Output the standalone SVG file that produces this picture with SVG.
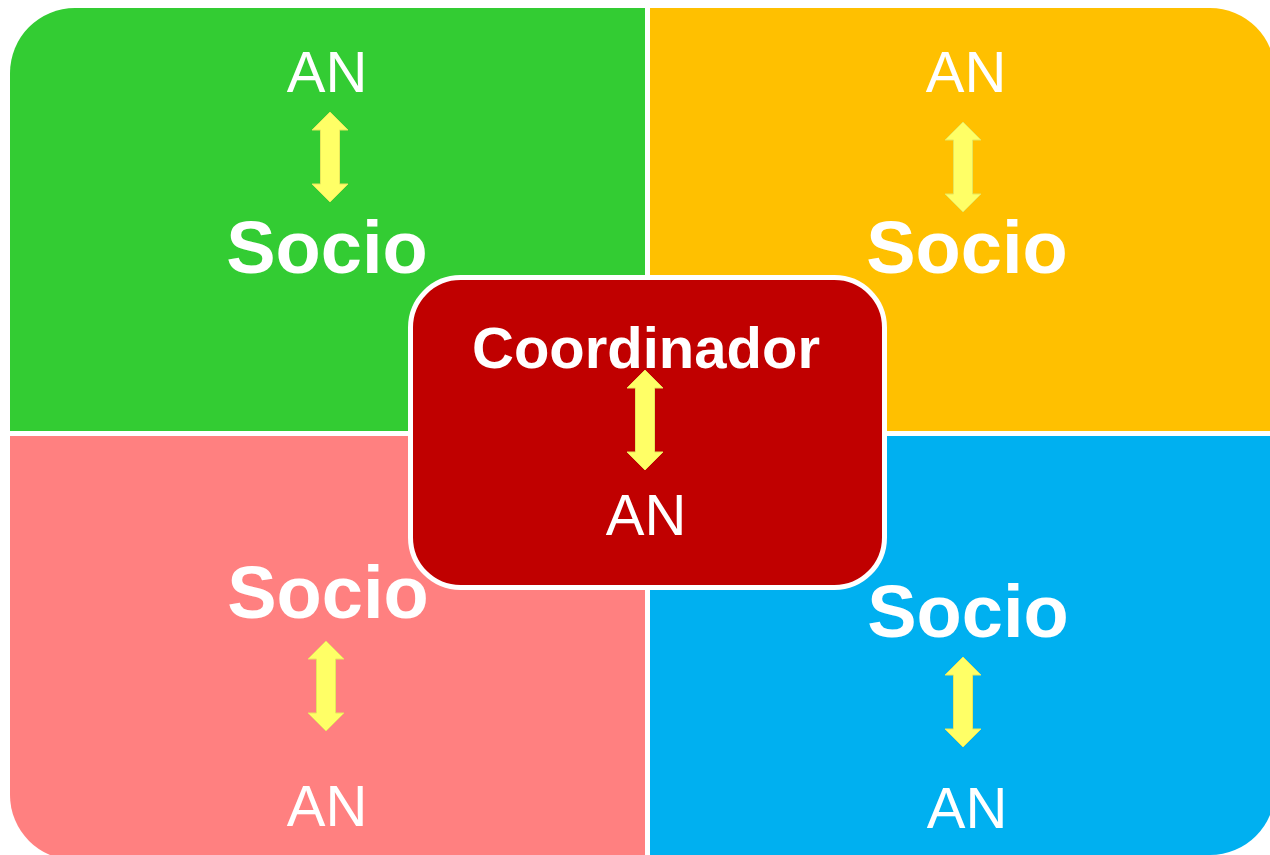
<svg xmlns="http://www.w3.org/2000/svg" width="1270" height="855" viewBox="0 0 1270 855">
<defs>
<style>
.an{font-family:"Liberation Sans",Arial,sans-serif;font-size:58px;fill:#fff;text-anchor:middle}
.b{font-family:"Liberation Sans",Arial,sans-serif;font-weight:bold;font-size:74px;fill:#fff;text-anchor:middle}
.arr{fill:#FFFF66;stroke:#E6E65C;stroke-width:1}
</style>
<path id="dbl" d="M0,0 L18,18 L9.5,18 L9.5,72 L18,72 L0,90 L-18,72 L-9.5,72 L-9.5,18 L-18,18 Z"/>
<path id="dblc" d="M0,0 L18,18 L9.5,18 L9.5,82 L18,82 L0,100 L-18,82 L-9.5,82 L-9.5,18 L-18,18 Z"/>
</defs>
<rect width="1270" height="855" fill="#fff"/>
<g id="green">
<path d="M10,73 A65,65 0 0 1 75,8 L645,8 L645,431 L10,431 Z" fill="#33CC33"/>
<text class="an" x="327" y="92">AN</text>
<use href="#dbl" class="arr" x="330" y="112"/>
<text class="b" x="327" y="273">Socio</text>
</g>
<g id="yellow">
<path d="M650,8 L1210,8 A65,65 0 0 1 1275,73 L1275,431 L650,431 Z" fill="#FFC000"/>
<text class="an" x="966" y="92">AN</text>
<use href="#dbl" class="arr" x="963" y="122"/>
<text class="b" x="967" y="273">Socio</text>
</g>
<g id="pink">
<path d="M10,436 L645,436 L645,860 L75,860 A65,65 0 0 1 10,795 Z" fill="#FF8080"/>
<text class="b" x="328" y="618">Socio</text>
<use href="#dbl" class="arr" x="326" y="641"/>
<text class="an" x="327" y="826">AN</text>
</g>
<g id="blue">
<path d="M650,436 L1275,436 L1275,790 A65,65 0 0 1 1210,855 L650,855 Z" fill="#00B0F0"/>
<text class="b" x="968" y="637">Socio</text>
<use href="#dbl" class="arr" x="963" y="657"/>
<text class="an" x="967" y="828">AN</text>
</g>
<g id="coordinador">
<rect x="410.5" y="277.5" width="474" height="310" rx="50" fill="#C00000" stroke="#fff" stroke-width="5"/>
<text class="b" x="646" y="368" style="font-size:58px">Coordinador</text>
<use href="#dblc" class="arr" x="645" y="370"/>
<text class="an" x="646" y="535">AN</text>
</g>
<g id="connectors"/>
</svg>
